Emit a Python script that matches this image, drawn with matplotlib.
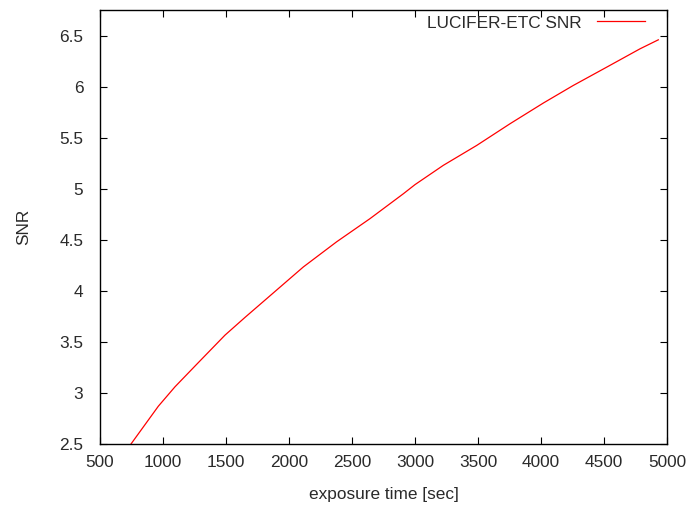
import matplotlib
matplotlib.use("Agg")
import matplotlib.pyplot as plt

# exposure time [sec] and signal-to-noise ratio from the ETC run
exptime = [746, 963, 1095, 1267, 1492, 1651, 1862, 2114, 2378, 2643,
           2907, 3000, 3225, 3490, 3754, 4020, 4256, 4521, 4786, 4931]
snr = [2.50, 2.87, 3.06, 3.28, 3.566, 3.74, 3.965, 4.234, 4.48, 4.707,
       4.95, 5.04, 5.229, 5.424, 5.636, 5.84, 6.011, 6.19, 6.37, 6.458]

xticks = [500, 1000, 1500, 2000, 2500, 3000, 3500, 4000, 4500, 5000]
yticks = [2.5, 3, 3.5, 4, 4.5, 5, 5.5, 6, 6.5]
ytick_labels = ["2.5", "3", "3.5", "4", "4.5", "5", "5.5", "6", "6.5"]

plt.rcParams["font.family"] = ["Liberation Sans", "DejaVu Sans"]
plt.rcParams["font.size"] = 12.4

fig = plt.figure(figsize=(6.88, 5.07), dpi=100)
ax = fig.add_axes([100 / 688, 1 - 444 / 507, 567 / 688, 434 / 507])

ax.plot(exptime, snr, color="#ff0000", lw=0.9, label="LUCIFER-ETC SNR")

ax.set_xlim(500, 5000)
ax.set_ylim(2.5, 6.75)
ax.set_xticks(xticks)
ax.set_yticks(yticks)
ax.set_yticklabels(ytick_labels)

ax.tick_params(direction="in", length=5, width=0.8, top=True, right=True,
               colors="black", labelcolor="#2a2a2a")
ax.tick_params(axis="x", pad=8)
ax.tick_params(axis="y", pad=12)
for s in ax.spines.values():
    s.set_linewidth(1.0)

ax.set_xlabel("exposure time [sec]", color="#2a2a2a", labelpad=12)
ax.set_ylabel("SNR", color="#2a2a2a", labelpad=20)

ax.legend(loc="center right", bbox_to_anchor=(545 / 567, 1 - 13 / 434),
          frameon=False, markerfirst=False, handlelength=2.8,
          handletextpad=0.87, borderaxespad=0.0, borderpad=0.0,
          labelcolor="#2a2a2a")

fig.savefig("out.png", dpi=100)
